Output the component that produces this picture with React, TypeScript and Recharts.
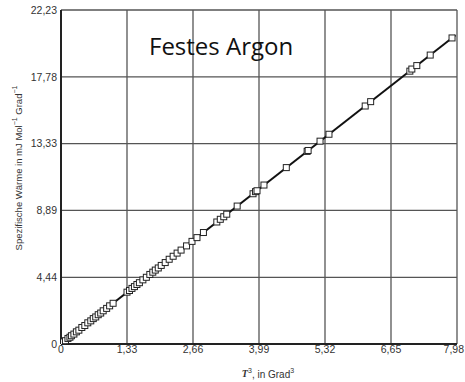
import React from 'react';
import { ScatterChart, Scatter, XAxis, YAxis, CartesianGrid } from 'recharts';

const xTicks = [0, 1.33, 2.66, 3.99, 5.32, 6.65, 7.98];
const yTicks = [0, 4.44, 8.89, 13.33, 17.78, 22.23];

const tCubed = [0.02,0.05,0.09,0.14,0.18,0.21,0.26,0.31,0.36,0.42,0.48,0.54,0.60,0.65,0.70,0.75,0.80,0.85,0.92,0.98,1.05,1.33,1.38,1.43,1.48,1.53,1.58,1.65,1.72,1.79,1.85,1.90,1.96,2.02,2.10,2.18,2.26,2.34,2.42,2.53,2.64,2.74,2.87,3.14,3.21,3.28,3.34,3.55,3.87,3.92,3.95,4.09,4.54,4.96,4.98,5.22,5.40,6.13,6.24,7.03,7.07,7.17,7.44,7.88];
const heat = [0.06,0.14,0.22,0.37,0.45,0.55,0.66,0.81,0.92,1.10,1.23,1.41,1.54,1.69,1.80,1.95,2.06,2.21,2.37,2.54,2.71,3.45,3.56,3.70,3.82,3.96,4.08,4.27,4.44,4.63,4.78,4.92,5.06,5.23,5.42,5.64,5.84,6.05,6.25,6.53,6.83,7.08,7.42,8.12,8.30,8.47,8.64,9.18,10.00,10.14,10.20,10.58,11.74,12.82,12.88,13.50,13.96,15.84,16.13,18.16,18.30,18.53,19.23,20.37];

const fitX = [0, 7.95];
const fitY = [0, 20.55];

const points = tCubed.map((x, i) => ({ x, y: heat[i] }));
const fit = fitX.map((x, i) => ({ x, y: fitY[i] }));

const fmt = (v: number) => (v === 0 ? '0' : v.toFixed(2).replace('.', ','));

const Square = (props: any) => {
  const { cx, cy } = props;
  if (cx == null || cy == null) return null;
  return <rect x={cx - 3} y={cy - 3} width={6} height={6} fill="#fff" stroke="#222" strokeWidth={1} />;
};
const Nothing = () => null;

const XTick = (props: any) => {
  const { x, y, payload, index } = props;
  const last = payload.value === 7.98;
  return (
    <text
      x={last ? 464 : x}
      y={y + 9}
      textAnchor={last ? 'end' : 'middle'}
      fill="#333"
      fontSize={10.5}
      fontFamily="Liberation Sans"
    >
      {fmt(payload.value)}
    </text>
  );
};

export default function App() {
  return (
    <div style={{ position: 'absolute', left: 0, top: 0, width: 465, height: 382, background: '#fff' }}>
      <ScatterChart width={465} height={382} margin={{ top: 10, right: 8, bottom: 0, left: 0 }}>
        <CartesianGrid stroke="#555" strokeWidth={1.3} />
        <XAxis
          type="number"
          dataKey="x"
          domain={[0, 7.98]}
          ticks={xTicks}
          tickFormatter={fmt}
          tickLine={false}
          tickSize={0}
          tickMargin={0}
          height={38}
          axisLine={{ stroke: '#222', strokeWidth: 2 }}
          tick={<XTick />}
          interval={0}
          allowDataOverflow
        />
        <YAxis
          type="number"
          dataKey="y"
          domain={[0, 22.23]}
          ticks={yTicks}
          tickFormatter={fmt}
          tickLine={false}
          tickSize={0}
          tickMargin={4}
          width={61}
          axisLine={{ stroke: '#222', strokeWidth: 2 }}
          tick={{ fill: '#333', fontSize: 10.5, fontFamily: 'Liberation Sans' }}
          interval={0}
          allowDataOverflow
        />
        <Scatter data={fit} line={{ stroke: '#111', strokeWidth: 2 }} shape={Nothing} isAnimationActive={false} />
        <Scatter data={points} shape={Square} isAnimationActive={false} />
      </ScatterChart>
      <svg style={{ position: 'absolute', left: 0, top: 0 }} width={465} height={382} pointerEvents="none">
        <text x={149} y={55} fontFamily="Open Sans" fontSize={24} fill="#111">Festes Argon</text>
        <text x={268} y={375} textAnchor="middle" dominantBaseline="middle" fontFamily="Liberation Sans" fontSize={10} fill="#333">
          <tspan fontStyle="italic" fontFamily="Liberation Serif" fontWeight="bold">T</tspan>
          <tspan dy={-4} fontSize={7}>3</tspan>
          <tspan dy={4}>, in Grad</tspan>
          <tspan dy={-4} fontSize={7}>3</tspan>
        </text>
        <text transform="translate(19,168) rotate(-90)" textAnchor="middle" dominantBaseline="middle" fontFamily="Liberation Sans" fontSize={9.5} fill="#333">
          Spezifische Wärme in mJ Mol
          <tspan dy={-4} fontSize={7}>−1</tspan>
          <tspan dy={4}> Grad</tspan>
          <tspan dy={-4} fontSize={7}>−1</tspan>
        </text>
      </svg>
    </div>
  );
}
